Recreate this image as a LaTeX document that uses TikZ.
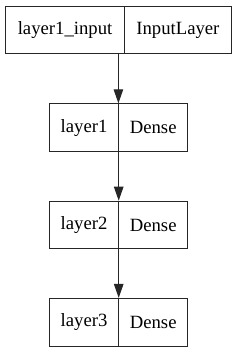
\documentclass[tikz,border=0pt]{standalone}
\usepackage{fontspec}
\setmainfont{Liberation Serif}
\usetikzlibrary{arrows.meta,calc}
\begin{document}
\begin{tikzpicture}[x=1pt,y=-1pt,
  cell/.style={draw=black!85, line width=1.1pt, minimum height=47.6pt, inner sep=0pt, font=\fontsize{18.7}{22}\selectfont, anchor=north west},
  conn/.style={draw=black!85, line width=1.1pt, -{Triangle[length=14pt,width=9.5pt]}, black!85}]
\useasboundingbox (0,0) rectangle (236,352);
\fill[white] (0,0) rectangle (236,352);
\node[cell, minimum width=119pt] (inname) at (5,5.7) {layer1\_input};
\node[cell, minimum width=106.7pt] (intype) at (124,5.7) {InputLayer};
\node[cell, minimum width=69pt] (l1name) at (49,103.3) {layer1};
\node[cell, minimum width=69.3pt] (l1type) at (118,103.3) {Dense};
\node[cell, minimum width=69pt] (l2name) at (49,200.7) {layer2};
\node[cell, minimum width=69.3pt] (l2type) at (118,200.7) {Dense};
\node[cell, minimum width=69pt] (l3name) at (49,297.9) {layer3};
\node[cell, minimum width=69.3pt] (l3type) at (118,297.9) {Dense};
\coordinate (a0) at ($(inname.south west)!0.5!(intype.south east)$);
\coordinate (b1) at ($(l1name.north west)!0.5!(l1type.north east)$);
\coordinate (a1) at ($(l1name.south west)!0.5!(l1type.south east)$);
\coordinate (b2) at ($(l2name.north west)!0.5!(l2type.north east)$);
\coordinate (a2) at ($(l2name.south west)!0.5!(l2type.south east)$);
\coordinate (b3) at ($(l3name.north west)!0.5!(l3type.north east)$);
\draw[conn] (a0) -- (a0 |- b1);
\draw[conn] (a1) -- (b2);
\draw[conn] (a2) -- (b3);
\end{tikzpicture}
\end{document}
